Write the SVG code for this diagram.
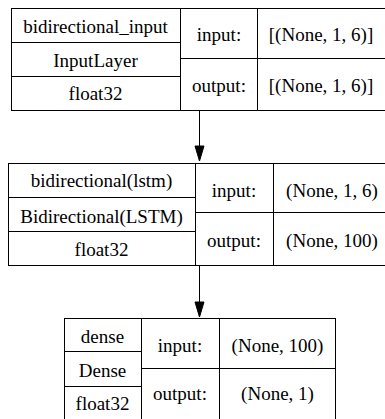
<svg xmlns="http://www.w3.org/2000/svg" width="385" height="419" viewBox="0 0 385 419" font-family="Liberation Serif, Times New Roman, serif">
<style>
.b{fill:#fff;stroke:#000;stroke-width:1}
.l{stroke:#000;stroke-width:1;fill:none}
.t{font-family:"Liberation Serif","Times New Roman",Times,serif;font-size:19px;fill:#000;text-anchor:middle}
</style>
<rect width="385" height="419" fill="#fff"/>
<g id="node1" class="t">
<rect class="b" x="11.5" y="8.5" width="380" height="102"/>
<line class="l" x1="11.5" y1="42.5" x2="180.5" y2="42.5"/>
<line class="l" x1="11.5" y1="76.5" x2="180.5" y2="76.5"/>
<line class="l" x1="180.5" y1="8.5" x2="180.5" y2="110.5"/>
<line class="l" x1="257.5" y1="8.5" x2="257.5" y2="110.5"/>
<line class="l" x1="180.5" y1="58.5" x2="391.5" y2="58.5"/>
<text x="95.5" y="33">bidirectional_input</text>
<text x="95.5" y="66.5">InputLayer</text>
<text x="95.5" y="100">float32</text>
<text x="219" y="41">input:</text>
<text x="219" y="92">output:</text>
<text x="321" y="41">[(None, 1, 6)]</text>
<text x="321" y="92">[(None, 1, 6)]</text>
</g>
<g id="node2" class="t">
<rect class="b" x="8.5" y="163.5" width="384" height="102"/>
<line class="l" x1="8.5" y1="197.5" x2="195.5" y2="197.5"/>
<line class="l" x1="8.5" y1="231.5" x2="195.5" y2="231.5"/>
<line class="l" x1="195.5" y1="163.5" x2="195.5" y2="265.5"/>
<line class="l" x1="273.5" y1="163.5" x2="273.5" y2="265.5"/>
<line class="l" x1="195.5" y1="212.5" x2="392.5" y2="212.5"/>
<text x="101.5" y="187">bidirectional(lstm)</text>
<text x="101.5" y="222.5">Bidirectional(LSTM)</text>
<text x="101.5" y="256">float32</text>
<text x="234" y="196.5">input:</text>
<text x="234" y="246.5">output:</text>
<text x="332" y="196.5">(None, 1, 6)</text>
<text x="332" y="246.5">(None, 100)</text>
</g>
<g id="node3" class="t">
<rect class="b" x="64.5" y="318.5" width="271" height="104"/>
<line class="l" x1="64.5" y1="351.5" x2="141.5" y2="351.5"/>
<line class="l" x1="64.5" y1="386.5" x2="141.5" y2="386.5"/>
<line class="l" x1="141.5" y1="318.5" x2="141.5" y2="422.5"/>
<line class="l" x1="219.5" y1="318.5" x2="219.5" y2="422.5"/>
<line class="l" x1="141.5" y1="368.5" x2="335.5" y2="368.5"/>
<text x="102.5" y="342.5">dense</text>
<text x="102.5" y="376.5">Dense</text>
<text x="102.5" y="410">float32</text>
<text x="180" y="351.5">input:</text>
<text x="180" y="400">output:</text>
<text x="277.5" y="351.5">(None, 100)</text>
<text x="277.5" y="400">(None, 1)</text>
</g>
<g id="connectors">
<line class="l" x1="199.5" y1="110.5" x2="199.5" y2="147"/>
<polygon points="195,146 204,146 199.5,161" fill="#000" stroke="#000" stroke-width="1"/>
<line class="l" x1="199.5" y1="265.5" x2="199.5" y2="303"/>
<polygon points="195,302 204,302 199.5,317" fill="#000" stroke="#000" stroke-width="1"/>
</g>
</svg>
